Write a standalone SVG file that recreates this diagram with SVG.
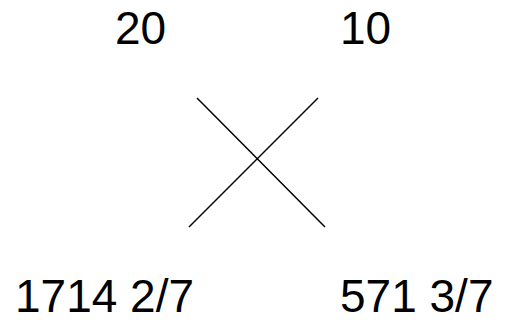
<svg xmlns="http://www.w3.org/2000/svg" width="508" height="322" viewBox="0 0 508 322">
<style>
.t{font-family:"Liberation Sans",Arial,sans-serif;font-size:46px;fill:#000}
.l{stroke:#000;stroke-width:1.5;fill:none}
</style>
<rect width="508" height="322" fill="#fff"/>
<g id="top-left"><text class="t" x="115" y="43.5">20</text></g>
<g id="top-right"><text class="t" x="340" y="43.5">10</text></g>
<g id="bottom-left"><text class="t" x="15" y="312">1714 2/7</text></g>
<g id="bottom-right"><text class="t" x="340" y="312">571 3/7</text></g>
<g id="connectors">
<line class="l" x1="197" y1="98" x2="325" y2="227"/>
<line class="l" x1="318" y1="98" x2="189" y2="227"/>
</g>
</svg>
